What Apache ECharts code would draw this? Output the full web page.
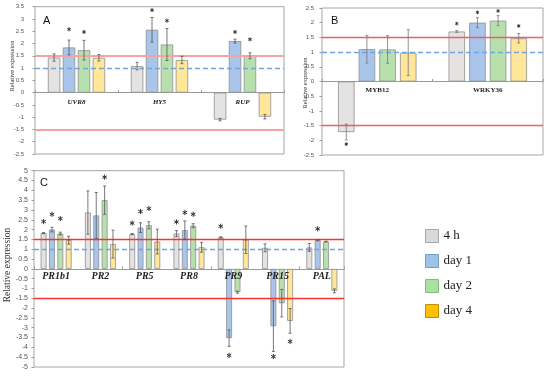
<!DOCTYPE html>
<html><head><meta charset="utf-8">
<script src="https://cdn.jsdelivr.net/npm/echarts@6/dist/echarts.min.js"></script>
<style>html,body{margin:0;padding:0;background:#fff}#c{width:550px;height:376px}</style>
</head><body><div id="c"></div>
<script>
// ---------- DATA ----------
const seriesNames = ['4 h', 'day 1', 'day 2', 'day 4'];

const catA = ['UVR8', 'HY5', 'RUP'];
const a4h = [1.43, 1.08, -1.10];
const a4hErr = [0.15, 0.15, 0.05];
const aD1 = [1.84, 2.56, 2.10];
const aD1Err = [0.30, 0.50, 0.08];
const aD2 = [1.73, 1.96, 1.50];
const aD2Err = [0.40, 0.65, 0.12];
const aD4 = [1.42, 1.33, -0.98];
const aD4Err = [0.13, 0.15, 0.09];
const aStar4h = [null, null, null];
const aStarD1 = [2.58, 3.36, 2.47];
const aStarD2 = [2.47, 2.93, 2.17];
const aStarD4 = [null, null, null];

const catB = ['MYB12', 'WRKY36'];
const b4h = [-1.72, 1.70];
const b4hErr = [0.27, 0.03];
const bD1 = [1.10, 2.00];
const bD1Err = [0.47, 0.17];
const bD2 = [1.09, 2.07];
const bD2Err = [0.47, 0.17];
const bD4 = [0.98, 1.47];
const bD4Err = [0.78, 0.16];
const bStar4h = [-2.13, 1.97];
const bStarD1 = [null, 2.35];
const bStarD2 = [null, 2.40];
const bStarD4 = [null, 1.89];

const catC = ['PR1b1', 'PR2', 'PR5', 'PR8', 'PR9', 'PR15', 'PAL'];
const c4h = [1.82, 2.87, 1.77, 1.80, 1.60, 1.07, 1.09];
const c4hErr = [0.03, 1.10, 0.03, 0.15, 0.03, 0.20, 0.20];
const cD1 = [2.00, 2.72, 2.10, 1.97, -3.53, -2.92, 1.46];
const cD1Err = [0.12, 1.17, 0.25, 0.47, 0.42, 1.29, 0.03];
const cD2 = [1.80, 3.50, 2.22, 2.20, -1.19, -1.75, 1.39];
const cD2Err = [0.07, 0.72, 0.18, 0.10, 0.05, 0.70, 0.02];
const cD4 = [1.46, 1.26, 1.39, 1.10, 1.48, -2.65, -1.12];
const cD4Err = [0.20, 0.71, 0.63, 0.25, 0.70, 0.63, 0.10];
const cStar4h = [2.41, null, 2.33, 2.39, 2.17, null, null];
const cStarD1 = [2.78, null, 2.92, 2.87, -4.41, -4.47, 2.04];
const cStarD2 = [2.56, 4.67, 3.07, 2.78, null, null, null];
const cStarD4 = [null, null, null, null, null, -3.70, null];

const redLine = 1.5;
const blueLine = 1.0;

// ---------- STYLE ----------
const fills = ['#e5e2e2', '#a9c5ea', '#b7e0ac', '#ffe699'];
const legendFills = ['#d9d9d9', '#9dc3e6', '#a9e2a0', '#ffc000'];
const legendBorders = ['#a6a6a6', '#6f9fc7', '#82b87a', '#c09000'];

const panels = [
  { cats: catA, vals: [a4h, aD1, aD2, aD4], errs: [a4hErr, aD1Err, aD2Err, aD4Err],
    stars: [aStar4h, aStarD1, aStarD2, aStarD4],
    grid: { left: 35, top: 6.7, width: 249, height: 147.3 }, min: -2.5, max: 3.5,
    cgap: 0.31, bgap: 0.2, yFont: 6, yMargin: 11, xFont: 7, xMargin: 6, xItalic: 'italic',
    red: '#f5a3a3', redW: 2, capW: 3, starR: 2, errColor: '#555' },
  { cats: catB, vals: [b4h, bD1, bD2, bD4], errs: [b4hErr, bD1Err, bD2Err, bD4Err],
    stars: [bStar4h, bStarD1, bStarD2, bStarD4],
    grid: { left: 322, top: 8, width: 221, height: 147 }, min: -2.5, max: 2.5,
    cgap: 0.29, bgap: 0.25, yFont: 6, yMargin: 8, xFont: 7, xMargin: 5, xItalic: 'normal',
    red: '#e5626a', redW: 1.3, capW: 3, starR: 1.8, errColor: '#777' },
  { cats: catC, vals: [c4h, cD1, cD2, cD4], errs: [c4hErr, cD1Err, cD2Err, cD4Err],
    stars: [cStar4h, cStarD1, cStarD2, cStarD4],
    grid: { left: 34, top: 170.7, width: 310, height: 196.3 }, min: -5, max: 5,
    cgap: 0.30, bgap: 0.42, yFont: 7, yMargin: 6, xFont: 10, xMargin: 3, xItalic: 'italic',
    red: '#ff3030', redW: 1.3, capW: 3, starR: 2.6, errColor: '#555' }
];

const grids = [], xAxes = [], yAxes = [], series = [];
panels.forEach((p, pi) => {
  grids.push(Object.assign({ show: true, borderColor: '#a6a6a6', borderWidth: 1, backgroundColor: 'transparent' }, p.grid));
  xAxes.push({
    type: 'category', gridIndex: pi, data: p.cats,
    axisLine: { onZero: true, lineStyle: { color: '#9a9a9a', width: 1 } },
    axisTick: { show: true, inside: true, length: 2.5, lineStyle: { color: '#999' } },
    axisLabel: { show: false },
    splitLine: { show: false }
  });
  yAxes.push({
    type: 'value', gridIndex: pi, min: p.min, max: p.max, interval: 0.5,
    axisLine: { show: false },
    axisTick: { show: true, length: 2.5, lineStyle: { color: '#999' } },
    axisLabel: { fontFamily: 'Liberation Sans', fontSize: p.yFont, color: '#555', margin: p.yMargin },
    splitLine: { show: false }
  });
  for (let i = 0; i < 4; i++) {
    const s = {
      type: 'bar', name: seriesNames[i], xAxisIndex: pi, yAxisIndex: pi,
      data: p.vals[i], barGap: (p.bgap * 100) + '%', barCategoryGap: (p.cgap * 100) + '%',
      itemStyle: { color: fills[i], borderColor: '#8f8f8f', borderWidth: 0.8 },
      emphasis: { disabled: true }, animation: false
    };
    if (i === 0) {
      s.markLine = {
        silent: true, symbol: 'none', label: { show: false }, animation: false,
        data: [
          { yAxis: redLine, lineStyle: { color: p.red, width: p.redW, type: 'solid' } },
          { yAxis: -redLine, lineStyle: { color: p.red, width: p.redW, type: 'solid' } },
          { yAxis: blueLine, lineStyle: { color: '#6fa6e0', width: 1.4, type: [5, 3] } }
        ]
      };
    }
    series.push(s);
  }
  const edata = [];
  for (let i = 0; i < 4; i++) {
    for (let k = 0; k < p.cats.length; k++) {
      const st = p.stars[i][k];
      edata.push([k, i, p.vals[i][k], p.errs[i][k], st == null ? -999 : st]);
    }
  }
  series.push({
    type: 'custom', xAxisIndex: pi, yAxisIndex: pi, z: 6, animation: false, silent: true,
    encode: { x: 0, y: 2 }, data: edata,
    renderItem: function (params, api) {
      const cat = api.value(0), bi = api.value(1), v = api.value(2), e = api.value(3), s = api.value(4);
      const bw = api.size([1, 0])[0];
      const usable = bw * (1 - p.cgap);
      const w = usable / (4 + 3 * p.bgap);
      const off = -usable / 2 + bi * w * (1 + p.bgap) + w / 2;
      const x = api.coord([cat, 0])[0] + off;
      const yt = api.coord([cat, v + e])[1];
      const yb = api.coord([cat, v - e])[1];
      const st = { stroke: p.errColor, lineWidth: 0.8 };
      const ch = [
        { type: 'line', shape: { x1: x, y1: yt, x2: x, y2: yb }, style: st },
        { type: 'line', shape: { x1: x - p.capW / 2, y1: yt, x2: x + p.capW / 2, y2: yt }, style: st },
        { type: 'line', shape: { x1: x - p.capW / 2, y1: yb, x2: x + p.capW / 2, y2: yb }, style: st }
      ];
      if (s > -100) {
        const cy = api.coord([cat, s])[1];
        const r = p.starR;
        const ss = { stroke: '#333', lineWidth: 1 };
        for (let a = 0; a < 3; a++) {
          const ang = Math.PI / 2 + a * Math.PI / 3;
          ch.push({ type: 'line', shape: { x1: x - r * Math.cos(ang), y1: cy - r * Math.sin(ang),
            x2: x + r * Math.cos(ang), y2: cy + r * Math.sin(ang) }, style: ss });
        }
      }
      return { type: 'group', children: ch };
    }
  });
  // category labels next to the zero line
  series.push({
    type: 'custom', xAxisIndex: pi, yAxisIndex: pi, z: 7, animation: false, silent: true,
    encode: { x: 0, y: 1 }, data: p.cats.map((c, k) => [k, 0]),
    renderItem: function (params, api) {
      const pt = api.coord([api.value(0), 0]);
      return { type: 'text', x: pt[0], y: pt[1] + p.xMargin,
        style: { text: p.cats[params.dataIndex], fill: '#222', textAlign: 'center', textVerticalAlign: 'top',
          font: p.xItalic + ' bold ' + p.xFont + 'px "Liberation Serif"' } };
    }
  });
});

const chart = echarts.init(document.getElementById('c'), null, { renderer: 'canvas' });
chart.setOption({
  animation: false,
  grid: grids, xAxis: xAxes, yAxis: yAxes, series: series,
  legend: {
    orient: 'vertical', left: 420, top: 224, itemWidth: 13, itemHeight: 13, itemGap: 11,
    icon: 'rect', selectedMode: false,
    textStyle: { fontFamily: 'Liberation Serif', fontSize: 13, color: '#222' },
    data: seriesNames.map((n, i) => ({ name: n, itemStyle: { color: legendFills[i], borderColor: legendBorders[i], borderWidth: 1 } }))
  },
  graphic: [
    { type: 'text', x: 43, y: 21, style: { text: 'A', font: '11px "Liberation Sans"', fill: '#111', textVerticalAlign: 'middle' } },
    { type: 'text', x: 331, y: 21, style: { text: 'B', font: '11px "Liberation Sans"', fill: '#111', textVerticalAlign: 'middle' } },
    { type: 'text', x: 40, y: 183, style: { text: 'C', font: '11px "Liberation Sans"', fill: '#111', textVerticalAlign: 'middle' } },
    { type: 'text', x: 12.5, y: 66, rotation: Math.PI / 2, style: { text: 'Relative expression', font: '6.5px "Liberation Serif"', fill: '#333', textAlign: 'center', textVerticalAlign: 'middle' } },
    { type: 'text', x: 305, y: 83, rotation: Math.PI / 2, style: { text: 'Relative expression', font: '6.5px "Liberation Serif"', fill: '#333', textAlign: 'center', textVerticalAlign: 'middle' } },
    { type: 'text', x: 7.5, y: 265, rotation: Math.PI / 2, style: { text: 'Relative expression', font: '9.5px "Liberation Serif"', fill: '#333', textAlign: 'center', textVerticalAlign: 'middle' } }
  ]
});
</script>
</body></html>
